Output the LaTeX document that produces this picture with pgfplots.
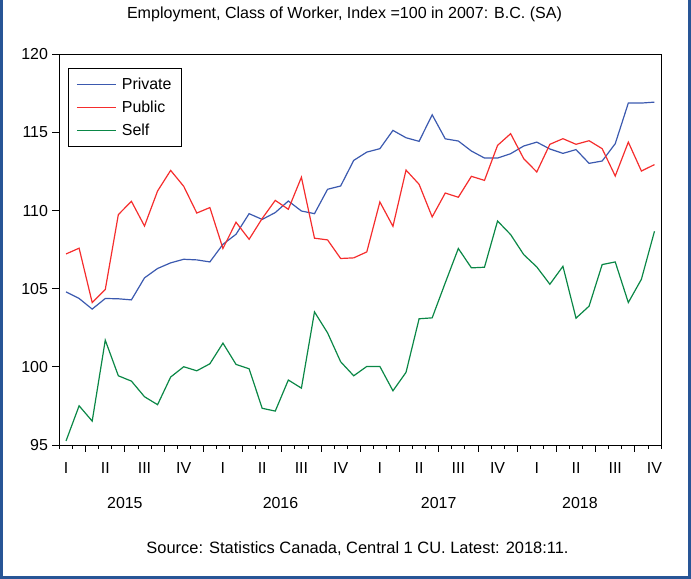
\documentclass[border=0pt]{standalone}
\usepackage{fontspec}
\setmainfont{Liberation Sans}
\usepackage{pgfplots}
\usepackage{pgfplotstable}
\pgfplotsset{compat=1.18}
\definecolor{cpriv}{RGB}{59,89,175}
\definecolor{cpub}{RGB}{245,45,45}
\definecolor{cself}{RGB}{10,135,70}
\definecolor{cframe}{RGB}{40,85,150}

\pgfplotstableread{
i priv pub self
0 104.80 107.23 95.26
1 104.38 107.60 97.51
2 103.70 104.12 96.53
3 104.38 104.95 101.71
4 104.36 109.75 99.43
5 104.29 110.60 99.09
6 105.70 109.02 98.09
7 106.30 111.26 97.58
8 106.66 112.58 99.35
9 106.89 111.56 100.01
10 106.85 109.85 99.75
11 106.72 110.20 100.20
12 107.85 107.58 101.52
13 108.49 109.26 100.16
14 109.81 108.17 99.88
15 109.44 109.50 97.35
16 109.88 110.66 97.17
17 110.62 110.09 99.16
18 109.98 112.14 98.64
19 109.81 108.24 103.52
20 111.37 108.13 102.18
21 111.58 106.94 100.33
22 113.22 106.98 99.43
23 113.75 107.36 100.03
24 113.97 110.56 100.03
25 115.14 109.00 98.47
26 114.67 112.60 99.65
27 114.44 111.69 103.08
28 116.14 109.60 103.14
29 114.60 111.13 105.38
30 114.46 110.86 107.58
31 113.82 112.20 106.34
32 113.37 111.94 106.38
33 113.37 114.18 109.34
34 113.65 114.93 108.47
35 114.14 113.33 107.19
36 114.39 112.48 106.40
37 113.95 114.25 105.29
38 113.67 114.61 106.44
39 113.91 114.25 103.12
40 113.03 114.48 103.89
41 113.18 113.97 106.55
42 114.29 112.22 106.72
43 116.89 114.39 104.12
44 116.89 112.54 105.61
45 116.95 112.95 108.68
}\datatable

\begin{document}
\begin{tikzpicture}[x=1bp,y=1bp]
\begin{axis}[
  scale only axis,
  width=601.5bp, height=390.5bp,
  xmin=-0.5, xmax=45.5, ymin=95, ymax=120,
  axis line style={line width=0.9bp, black},
  tick align=outside, tick pos=left,
  major tick length=7bp, minor tick length=4bp,
  every tick/.style={black, line width=0.8bp},
  ytick={95,100,...,120},
  yticklabel style={font=\fontsize{16}{18}\selectfont, /pgf/number format/assume math mode=true, xshift=-1bp},
  xtick={1.5,4.5,...,43.5}, xticklabels={},
  minor xtick={-0.5,0.5,...,45.5},
  extra x ticks={0,3,...,45},
  extra x tick labels={I,II,III,IV,I,II,III,IV,I,II,III,IV,I,II,III,IV},
  extra x tick style={major tick length=0pt, tick style={draw=none}, xticklabel style={font=\fontsize{16}{18}\selectfont, anchor=north, yshift=-14bp}},
  legend style={at={(0.0146,0.965)}, anchor=north west, draw=black, line width=0.8bp,
    font=\fontsize{16}{18}\selectfont, cells={anchor=west}, row sep=5.8bp, inner xsep=7.5bp, inner ysep=7.4bp},
  legend image code/.code={\draw[#1] (0,0) -- (39bp,0); \path (42.5bp,0);},
  clip=false,
]
\addplot[cpriv, line width=1.2bp] table[x=i, y=priv] {\datatable};
\addlegendentry{Private}
\addplot[cpub, line width=1.2bp] table[x=i, y=pub] {\datatable};
\addlegendentry{Public}
\addplot[cself, line width=1.2bp] table[x=i, y=self] {\datatable};
\addlegendentry{Self}
\node[font=\fontsize{16}{18}\selectfont] at (axis cs:4.5,95) [yshift=-58bp] {2015};
\node[font=\fontsize{16}{18}\selectfont] at (axis cs:16.4,95) [yshift=-58bp] {2016};
\node[font=\fontsize{16}{18}\selectfont] at (axis cs:28.5,95) [yshift=-58bp] {2017};
\node[font=\fontsize{16}{18}\selectfont] at (axis cs:39.3,95) [yshift=-58bp] {2018};
\coordinate (sw) at (rel axis cs:0,0);
\end{axis}
\pgfresetboundingbox
\begin{scope}[shift={(sw)}, xshift=-59.5bp, yshift=-134bp]
\path[use as bounding box] (0,0) rectangle (691,579);
\draw[cframe, line width=3.5bp] (1.75,579) -- (1.75,1.75) -- (689.25,1.75) -- (689.25,579);
\node[font=\fontsize{16.1}{18}\selectfont] at (344.5,579-14) {Employment, Class of Worker, Index =100 in 2007: B.C. (SA)};
\node[font=\fontsize{16.5}{18}\selectfont] at (357.5,579-549) {Source: Statistics Canada, Central 1 CU. Latest: 2018:11.};
\end{scope}
\end{tikzpicture}
\end{document}
